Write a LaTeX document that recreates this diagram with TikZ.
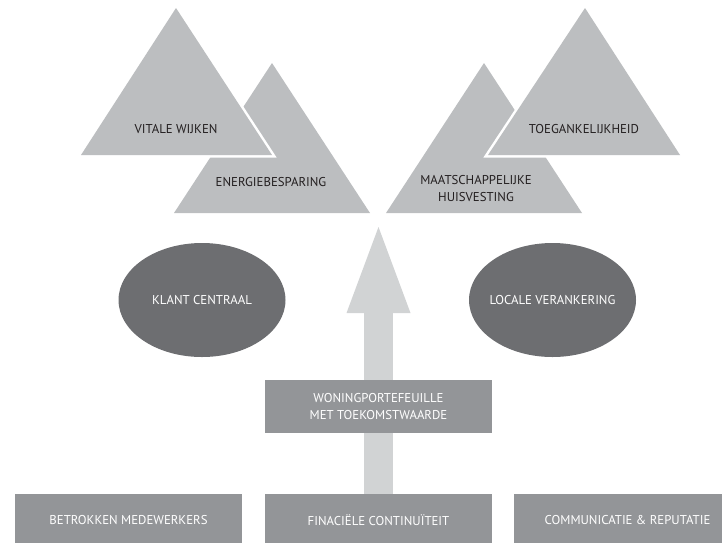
\documentclass[tikz,border=0pt]{standalone}
\usepackage{fontspec}
\setmainfont{PT Sans}
\usetikzlibrary{arrows.meta, shapes.geometric, backgrounds}
\definecolor{triGray}{RGB}{188,190,192}
\definecolor{boxGray}{RGB}{147,149,152}
\definecolor{ovalGray}{RGB}{109,110,113}
\definecolor{arrowGray}{RGB}{209,211,212}
\definecolor{inkDark}{RGB}{35,31,32}

\begin{document}
\begin{tikzpicture}[x=1pt, y=-1pt,
    tri/.style={fill=triGray},
    trifront/.style={fill=triGray, preaction={draw=white, line width=5pt, line join=miter}},
    lbl/.style={font=\fontsize{12.8}{17}\selectfont, text=inkDark, align=center, inner sep=0pt},
    box/.style={fill=boxGray, minimum width=227pt, minimum height=#1, inner sep=0pt,
                font=\fontsize{12.8}{17}\selectfont, text=white, align=center},
    oval/.style={ellipse, fill=ovalGray, minimum width=167pt, minimum height=114pt,
                 inner xsep=-8pt, inner ysep=0pt,
                 font=\fontsize{12.8}{17}\selectfont, text=white}
  ]
    \useasboundingbox (0,0) rectangle (722,542);
    \clip (0,0) rectangle (722,542);

    % Triangles, left pair
    \fill[tri]      (174,213) -- (272,63) -- (370,213) -- cycle;
    \fill[trifront] (81,155)  -- (176,8)  -- (272,155) -- cycle;
    \node[lbl] (vitaal)  at (176,129) {VITALE WIJKEN};
    \node[lbl] (energie) at (271,182) {ENERGIEBESPARING};

    % Triangles, right pair
    \fill[tri]      (386,213) -- (484,63) -- (582,213) -- cycle;
    \fill[trifront] (488,155) -- (585,8)  -- (680,155) -- cycle;
    \node[lbl] (toegank) at (584,129) {TOEGANKELIJKHEID};
    \node[lbl] (maatsch) at (476,189) {MAATSCHAPPELIJKE\\HUISVESTING};

    % Ovals
    \node[oval] (klant)  at (202,300)   {KLANT CENTRAAL};
    \node[oval] (locale) at (552.5,300) {LOCALE VERANKERING};

    % Middle box
    \node[box=53pt] (woning) at (378.5,406.5) {WONINGPORTEFEUILLE\\MET TOEKOMSTWAARDE};

    % Bottom row
    \node[box=52pt] (betrokken)    at (128.5,520) {BETROKKEN MEDEWERKERS};
    \node[box=52pt] (financieel)   at (378.5,520) {FINACIËLE CONTINUÏTEIT};
    \node[box=52pt] (communicatie) at (627.5,520) {COMMUNICATIE \& REPUTATIE};

    % Arrow behind the boxes
    \coordinate (top) at (378.5,227);
    \begin{scope}[on background layer]
      \draw[arrowGray, line width=29pt, -{Triangle[width=64pt, length=86pt, line width=0pt]}]
        (financieel.north) -- (top);
    \end{scope}
\end{tikzpicture}
\end{document}
